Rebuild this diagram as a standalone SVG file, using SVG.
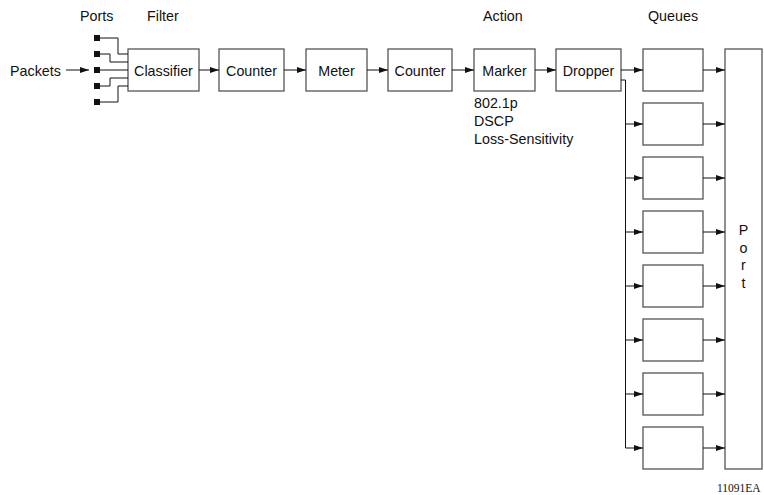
<svg xmlns="http://www.w3.org/2000/svg" width="764" height="495" viewBox="0 0 764 495">
<style>
.t{font-family:"Liberation Sans",Arial,sans-serif;font-size:14.3px;fill:#111}
.c{text-anchor:middle}
.box{fill:#fff;stroke:#555;stroke-width:1.3}
.w{fill:none;stroke:#111;stroke-width:1}
.a{fill:none;stroke:#111;stroke-width:1;marker-end:url(#ah)}
</style>
<defs>
<marker id="ah" markerUnits="userSpaceOnUse" markerWidth="10" markerHeight="7" refX="9" refY="3.5" orient="auto">
<path d="M0,0.5 L9,3.5 L0,6.5 z" fill="#111"/>
</marker>
</defs>
<rect width="764" height="495" fill="#fff"/>
<g id="headings">
<text class="t" x="80" y="21">Ports</text>
<text class="t" x="147" y="21">Filter</text>
<text class="t" x="483" y="21">Action</text>
<text class="t" x="648" y="21">Queues</text>
</g>
<g id="packets"><text class="t" x="10" y="75.5">Packets</text></g>
<g id="ports">
<rect x="94" y="35" width="6" height="6" fill="#111"/>
<rect x="94" y="51" width="6" height="6" fill="#111"/>
<rect x="94" y="67" width="6" height="6" fill="#111"/>
<rect x="94" y="83" width="6" height="6" fill="#111"/>
<rect x="94" y="99" width="6" height="6" fill="#111"/>
</g>
<g id="classifier"><rect class="box" x="128" y="49" width="71" height="42"/><text class="t c" x="163.5" y="75.5">Classifier</text></g>
<g id="counter1"><rect class="box" x="219" y="49" width="65" height="42"/><text class="t c" x="251.5" y="75.5">Counter</text></g>
<g id="meter"><rect class="box" x="306" y="49" width="61" height="42"/><text class="t c" x="336.5" y="75.5">Meter</text></g>
<g id="counter2"><rect class="box" x="388" y="49" width="64" height="42"/><text class="t c" x="420" y="75.5">Counter</text></g>
<g id="marker"><rect class="box" x="474" y="49" width="61" height="42"/><text class="t c" x="504.5" y="75.5">Marker</text>
<text class="t" x="474" y="108">802.1p</text>
<text class="t" x="474" y="126">DSCP</text>
<text class="t" x="474" y="144">Loss-Sensitivity</text></g>
<g id="dropper"><rect class="box" x="556" y="49" width="65" height="42"/><text class="t c" x="588.5" y="75.5">Dropper</text></g>
<g id="queues">
<rect class="box" x="643" y="49" width="60" height="42"/>
<rect class="box" x="643" y="103" width="60" height="42"/>
<rect class="box" x="643" y="157" width="60" height="42"/>
<rect class="box" x="643" y="211" width="60" height="42"/>
<rect class="box" x="643" y="265" width="60" height="42"/>
<rect class="box" x="643" y="319" width="60" height="42"/>
<rect class="box" x="643" y="373" width="60" height="42"/>
<rect class="box" x="643" y="427" width="60" height="42"/>
</g>
<g id="port"><rect class="box" x="725" y="49" width="37" height="420"/>
<text class="t c" x="743.5" y="235">P</text>
<text class="t c" x="743.5" y="252.5">o</text>
<text class="t c" x="743.5" y="270">r</text>
<text class="t c" x="743.5" y="287.5">t</text></g>
<g id="connectors">
<path class="a" d="M66,70 H89"/>
<path class="w" d="M100,38 H118 V54 H128"/>
<path class="w" d="M100,54 H110 V62 H128"/>
<path class="w" d="M100,70 H128"/>
<path class="w" d="M100,86 H110 V78 H128"/>
<path class="w" d="M100,102 H118 V86 H128"/>
<path class="a" d="M199,70 H219"/>
<path class="a" d="M284,70 H306"/>
<path class="a" d="M367,70 H388"/>
<path class="a" d="M452,70 H474"/>
<path class="a" d="M535,70 H556"/>
<path class="a" d="M621,70 H643"/>
<path class="w" d="M621,80 H625.5 V448"/>
<path class="a" d="M625.5,124 H643"/>
<path class="a" d="M625.5,178 H643"/>
<path class="a" d="M625.5,232 H643"/>
<path class="a" d="M625.5,286 H643"/>
<path class="a" d="M625.5,340 H643"/>
<path class="a" d="M625.5,394 H643"/>
<path class="a" d="M625.5,448 H643"/>
<path class="a" d="M703,70 H725"/>
<path class="a" d="M703,124 H725"/>
<path class="a" d="M703,178 H725"/>
<path class="a" d="M703,232 H725"/>
<path class="a" d="M703,286 H725"/>
<path class="a" d="M703,340 H725"/>
<path class="a" d="M703,394 H725"/>
<path class="a" d="M703,448 H725"/>
</g>
<g id="figid"><text x="717" y="492" style="font-family:'Liberation Serif','Times New Roman',serif;font-size:11.5px;fill:#111">11091EA</text></g>
</svg>
